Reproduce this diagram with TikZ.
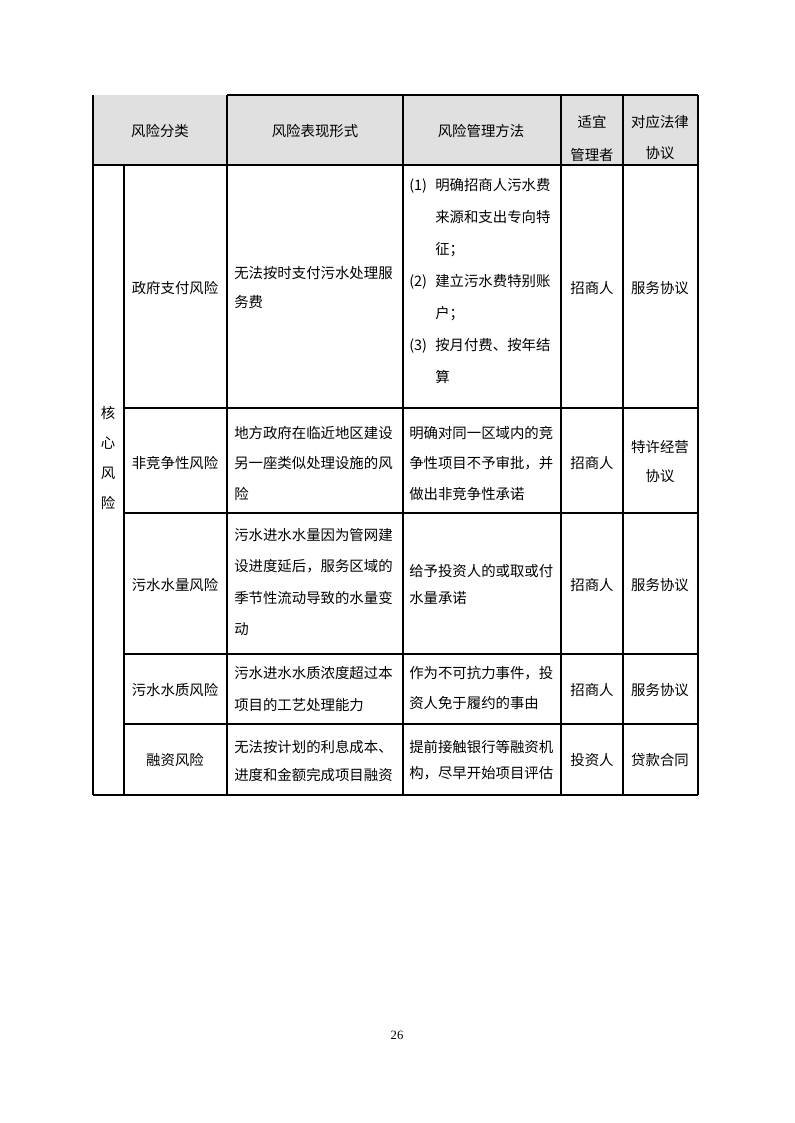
\documentclass[tikz,border=0pt]{standalone}
\usepackage{fontspec}
\newfontfamily\cjk{Noto Sans CJK SC}
\newfontfamily\pagefont{Liberation Serif}

\newcommand{\cellfont}[1]{\cjk\fontsize{10.8}{#1}\selectfont}
\definecolor{HeaderColor}{rgb}{0.878,0.878,0.878}
\tikzstyle{cell-base}=[inner sep=0pt,
                       font=\cellfont{23.5pt},
                      ]
\tikzstyle{cell}=[cell-base, align=center]
\tikzstyle{cell-lines}=[cell-base, align=center, anchor=base]
\tikzstyle{cell-left}=[cell-base, align=left, anchor=base west]
\tikzstyle{rule}=[line width=0.8pt]
\tikzstyle{frame}=[line width=1.4pt]

\newcommand{\riskno}[1]{\makebox[19.5pt][l]{(#1)}}
\newcommand{\riskindent}{\hspace*{19.5pt}}

\begin{document}
\begin{tikzpicture}[x=0.75pt, y=-0.75pt]
\useasboundingbox (0,0) rectangle (795,1123);
\fill[HeaderColor] (93,95) rectangle (698,165);

% header (multi-line nodes sit on their last baseline)
\node at (160,  131)   (head_class)   [cell]        {风险分类};
\node at (315,  131)   (head_form)    [cell]        {风险表现形式};
\node at (481,  131)   (head_method)  [cell]        {风险管理方法};
\node at (592,  160.5) (head_manager) [cell-lines, font=\cellfont{24.5pt}] {适宜\\管理者};
\node at (660,  158.5) (head_law)     [cell-lines]  {对应法律\\协议};

\node at (108,  508.5) (core)         [cell-lines, font=\cellfont{22.5pt}] {核\\心\\风\\险};

% row 1
\node at (175,  288)   (pay_class)    [cell]        {政府支付风险};
\node at (234,  307)   (pay_form)     [cell-left, font=\cellfont{21.5pt}] {无法按时支付污水处理服\\务费};
\node at (409,  382.5) (pay_method)   [cell-left, font=\cellfont{24pt}] {\riskno{1}明确招商人污水费\\\riskindent 来源和支出专向特\\\riskindent 征；\\\riskno{2}建立污水费特别账\\\riskindent 户；\\\riskno{3}按月付费、按年结\\\riskindent 算};
\node at (592,  288)   (pay_manager)  [cell]        {招商人};
\node at (660,  288)   (pay_law)      [cell]        {服务协议};

% row 2
\node at (175,  463)   (comp_class)   [cell]        {非竞争性风险};
\node at (234,  499.5) (comp_form)    [cell-left, font=\cellfont{23pt}] {地方政府在临近地区建设\\另一座类似处理设施的风\\险};
\node at (409,  499.5) (comp_method)  [cell-left, font=\cellfont{23pt}] {明确对同一区域内的竞\\争性项目不予审批，并\\做出非竞争性承诺};
\node at (592,  463)   (comp_manager) [cell]        {招商人};
\node at (660,  481.5) (comp_law)     [cell-lines, font=\cellfont{22pt}] {特许经营\\协议};

% row 3
\node at (175,  585)   (vol_class)    [cell]        {污水水量风险};
\node at (234,  634.5) (vol_form)     [cell-left]   {污水进水水量因为管网建\\设进度延后，服务区域的\\季节性流动导致的水量变\\动};
\node at (409,  603.5) (vol_method)   [cell-left, font=\cellfont{20pt}] {给予投资人的或取或付\\水量承诺};
\node at (592,  585)   (vol_manager)  [cell]        {招商人};
\node at (660,  585)   (vol_law)      [cell]        {服务协议};

% row 4
\node at (175,  690)   (qual_class)   [cell]        {污水水质风险};
\node at (234,  710.5) (qual_form)    [cell-left, font=\cellfont{24pt}] {污水进水水质浓度超过本\\项目的工艺处理能力};
\node at (409,  708.5) (qual_method)  [cell-left, font=\cellfont{22.5pt}] {作为不可抗力事件，投\\资人免于履约的事由};
\node at (592,  690)   (qual_manager) [cell]        {招商人};
\node at (660,  690)   (qual_law)     [cell]        {服务协议};

% row 5
\node at (175,  760)   (fin_class)    [cell]        {融资风险};
\node at (234,  780.5) (fin_form)     [cell-left, font=\cellfont{21pt}] {无法按计划的利息成本、\\进度和金额完成项目融资};
\node at (409,  778.5) (fin_method)   [cell-left, font=\cellfont{19.5pt}] {提前接触银行等融资机\\构，尽早开始项目评估};
\node at (592,  760)   (fin_manager)  [cell]        {投资人};
\node at (660,  760)   (fin_law)      [cell]        {贷款合同};

% grid
\draw[frame] (227,95) -- (698,95);
\draw[frame] (93,795) -- (698,795);
\draw[rule] (93,95) -- (93,795);
\draw[frame] (698,95) -- (698,795);
\draw[rule] (93,165) -- (698,165);
\draw[rule] (124,165) -- (124,795);
\draw[rule] (227,95) -- (227,795);
\draw[rule] (403,95) -- (403,795);
\draw[rule] (561,95) -- (561,795);
\draw[rule] (623,95) -- (623,795);
\draw[rule] (124,408) -- (698,408);
\draw[rule] (124,513) -- (698,513);
\draw[rule] (124,654) -- (698,654);
\draw[rule] (124,724) -- (698,724);

\node at (397, 1035) (page_no) [font=\pagefont\fontsize{9.5}{11}\selectfont] {26};
\end{tikzpicture}
\end{document}
